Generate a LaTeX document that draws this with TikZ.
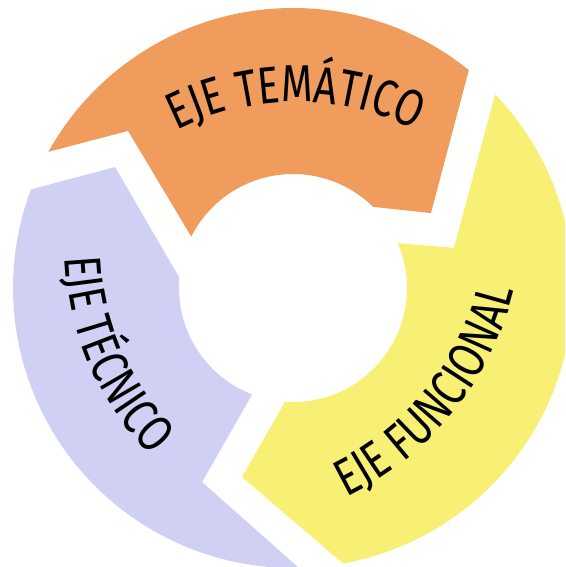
\documentclass[tikz,border=0pt]{standalone}
\usepackage{fontspec}
\usetikzlibrary{decorations.text}
\newfontfamily\ejefont[FakeStretch=0.78]{Fira Sans}
\definecolor{naranja}{RGB}{239,156,93}
\definecolor{amarillo}{RGB}{248,239,117}
\definecolor{lavanda}{RGB}{207,208,243}

\begin{document}
\begin{tikzpicture}[x=0.75pt, y=0.75pt,
		eje/.style={decorate, decoration={text along path, text align=center,
			text={|\ejefont\fontsize{39}{42}\selectfont|#1}}}]
			\useasboundingbox (-293,-279) rectangle (272,288);
			\clip (-293,-279) rectangle (272,288);
			% tres flechas del ciclo
			\fill[naranja] (150.9:280) arc[start angle=150.9, end angle=51.1, radius=280] -- (28.5:157) -- (45.4:114)
				arc[start angle=45.4, end angle=153.2, radius=114] -- (136.4:227.8) -- cycle;
			\fill[amarillo] (43.8:280) arc[start angle=43.8, end angle=-79.7, radius=280] -- (-105.1:195.8) -- (-94:114)
				arc[start angle=-94, end angle=23.2, radius=114] -- (14:165.9) -- cycle;
			\fill[lavanda] (271.2:280) arc[start angle=271.2, end angle=159.4, radius=280] -- (145.8:215.2) -- (174.9:114)
				arc[start angle=174.9, end angle=249, radius=114] -- (244.9:214.3) -- cycle;
			% textos
			\path[eje=EJE TEMÁTICO, shift={(3,-77)}] (150:263) arc[start angle=150, end angle=30, radius=263];
			\path[eje=EJE FUNCIONAL, shift={(-82,72)}] (-94:312) arc[start angle=-94, end angle=16, radius=312];
			\path[eje=EJE TÉCNICO, shift={(68,41)}] (150:296) arc[start angle=150, end angle=257, radius=296];
		\end{tikzpicture}
\end{document}
